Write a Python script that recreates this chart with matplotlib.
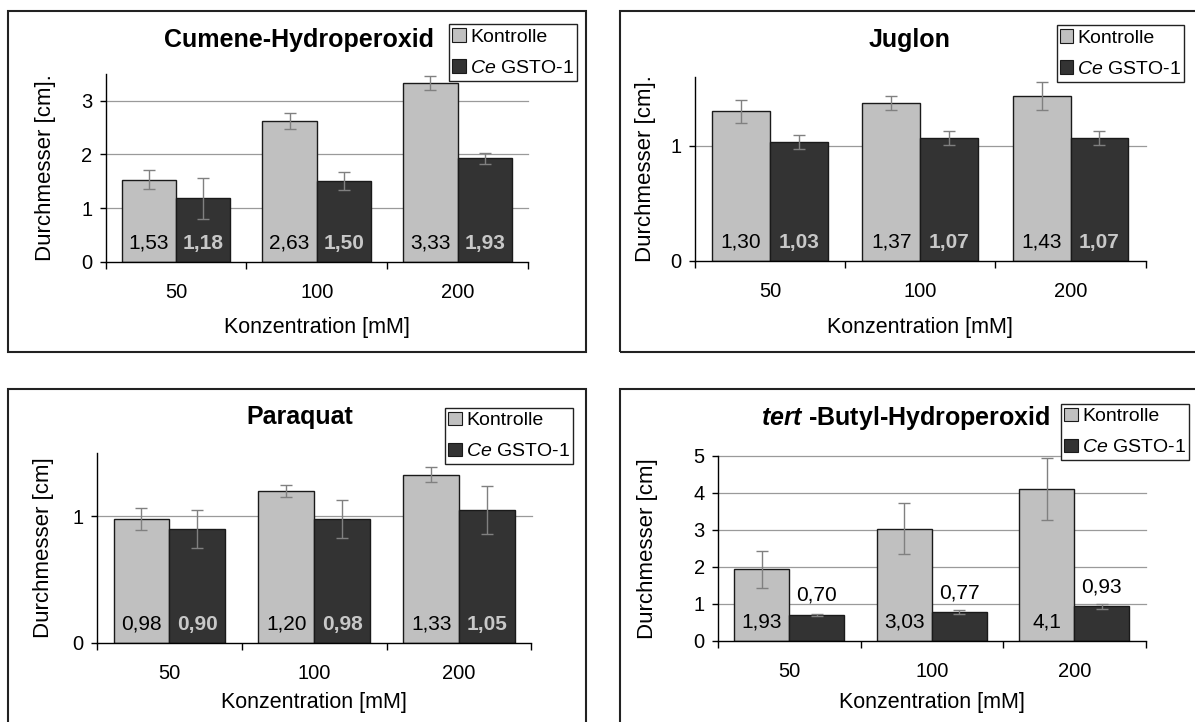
import matplotlib
matplotlib.use("Agg")
import matplotlib.pyplot as plt
from matplotlib.patches import Rectangle, Patch
import numpy as np

plt.rcParams['font.family'] = ['Liberation Sans', 'DejaVu Sans']
plt.rcParams['mathtext.fontset'] = 'custom'
plt.rcParams['mathtext.rm'] = 'Liberation Sans'
plt.rcParams['mathtext.it'] = 'Liberation Sans:italic'
plt.rcParams['mathtext.bf'] = 'Liberation Sans:bold'
try:
    plt.rcParams['mathtext.bfit'] = 'Liberation Sans:bold:italic'
    BFIT = True
except Exception:
    BFIT = False

# ---------------- data ----------------
categories = ["50", "100", "200"]
series_names = ["Kontrolle", "$\\it{Ce}$ GSTO-1"]

cumene_kontrolle = [1.53, 2.63, 3.33]
cumene_ce = [1.18, 1.50, 1.93]
cumene_kontrolle_err = [0.18, 0.15, 0.13]
cumene_ce_err = [0.38, 0.17, 0.10]
cumene_kontrolle_lbl = ["1,53", "2,63", "3,33"]
cumene_ce_lbl = ["1,18", "1,50", "1,93"]

juglon_kontrolle = [1.30, 1.37, 1.43]
juglon_ce = [1.03, 1.07, 1.07]
juglon_kontrolle_err = [0.10, 0.06, 0.12]
juglon_ce_err = [0.06, 0.06, 0.06]
juglon_kontrolle_lbl = ["1,30", "1,37", "1,43"]
juglon_ce_lbl = ["1,03", "1,07", "1,07"]

paraquat_kontrolle = [0.98, 1.20, 1.33]
paraquat_ce = [0.90, 0.98, 1.05]
paraquat_kontrolle_err = [0.085, 0.05, 0.06]
paraquat_ce_err = [0.15, 0.15, 0.19]
paraquat_kontrolle_lbl = ["0,98", "1,20", "1,33"]
paraquat_ce_lbl = ["0,90", "0,98", "1,05"]

tbhp_kontrolle = [1.93, 3.03, 4.10]
tbhp_ce = [0.70, 0.77, 0.93]
tbhp_kontrolle_err = [0.50, 0.68, 0.85]
tbhp_ce_err = [0.02, 0.05, 0.06]
tbhp_kontrolle_lbl = ["1,93", "3,03", "4,1"]
tbhp_ce_lbl = ["0,70", "0,77", "0,93"]

# ---------------- style ----------------
W, H = 1195, 722
C_K = '#C0C0C0'
C_CE = '#333333'
C_ERR = '#808080'
C_GRID = '#9a9a9a'
BW = 0.386

fig = plt.figure(figsize=(W / 100, H / 100), dpi=100)


def frame(x0, y0, x1, y1, lw=1.5, color='#222222', zorder=0):
    r = Rectangle((x0 / W, 1 - y1 / H), (x1 - x0) / W, (y1 - y0) / H,
                  transform=fig.transFigure, fill=False,
                  edgecolor=color, linewidth=lw, zorder=zorder)
    fig.patches.append(r)
    return r


def panel(box, ylim, yticks, k, ce, kerr, ceerr, klbl, celbl, title, ylabel,
          title_xy, legend_box, ylabel_dx, xlabel_dy, ce_above=False):
    left, right, top, bottom = box
    ax = fig.add_axes([left / W, 1 - bottom / H, (right - left) / W, (bottom - top) / H])
    wpx, hpx = right - left, bottom - top
    x = np.arange(len(categories))
    ax.set_xlim(-0.5, len(categories) - 0.5)
    ax.set_ylim(*ylim)
    ax.set_yticks(yticks)
    ax.set_yticklabels([str(t) for t in yticks])
    for t in yticks:
        if t > 0:
            ax.axhline(t, color=C_GRID, lw=0.9, zorder=0, clip_on=False)
    ax.bar(x - BW / 2, k, BW, color=C_K, edgecolor='#1a1a1a', linewidth=1.0, zorder=2)
    ax.bar(x + BW / 2, ce, BW, color=C_CE, edgecolor='#1a1a1a', linewidth=1.0, zorder=2)
    ax.errorbar(x - BW / 2, k, yerr=kerr, fmt='none', ecolor=C_ERR, elinewidth=1.0,
                capsize=4, capthick=1.0, zorder=3)
    ax.errorbar(x + BW / 2, ce, yerr=ceerr, fmt='none', ecolor=C_ERR, elinewidth=1.0,
                capsize=4, capthick=1.0, zorder=3)
    for xi, lb in zip(x, klbl):
        ax.annotate(lb, (xi - BW / 2, 0), xytext=(0, 9.5), textcoords='offset points',
                    ha='center', va='baseline', fontsize=15, color='black', zorder=4)
    for xi, v, lb in zip(x, ce, celbl):
        if ce_above:
            ax.annotate(lb, (xi + BW / 2, v), xytext=(0, 10), textcoords='offset points',
                        ha='center', va='baseline', fontsize=15, color='black', zorder=4)
        else:
            ax.annotate(lb, (xi + BW / 2, 0), xytext=(0, 9.5), textcoords='offset points',
                        ha='center', va='baseline', fontsize=15, color='#C8C8C8',
                        fontweight='bold', zorder=4)
    for s in ['top', 'right']:
        ax.spines[s].set_visible(False)
    for s in ['left', 'bottom']:
        ax.spines[s].set_color('black')
        ax.spines[s].set_linewidth(1.0)
    ax.set_xticks(np.arange(len(categories) + 1) - 0.5)
    ax.set_xticklabels([''] * (len(categories) + 1))
    ax.set_xticks(x, minor=True)
    ax.set_xticklabels(categories, minor=True)
    ax.tick_params(axis='x', which='major', direction='out', length=5, width=1.0)
    ax.tick_params(axis='x', which='minor', length=0, pad=15, labelsize=14.5)
    ax.tick_params(axis='y', direction='out', length=4.5, width=1.0, pad=5, labelsize=14.5)
    ax.set_xlabel("Konzentration [mM]", fontsize=15.5)
    ax.xaxis.label.set_verticalalignment('baseline')
    ax.xaxis.set_label_coords(0.5, -xlabel_dy / hpx)
    ax.set_ylabel(ylabel, fontsize=16)
    ax.yaxis.label.set_verticalalignment('center')
    ax.yaxis.set_label_coords(-ylabel_dx / wpx, 0.5)
    fig.text(title_xy[0] / W, 1 - title_xy[1] / H, title, fontsize=18, fontweight='bold',
             ha='center', va='center')
    # legend with a manually drawn box (added to the axes so it sits above the grid)
    lx0, ly0, lx1, ly1 = legend_box
    lw_, lh_ = lx1 - lx0, ly1 - ly0
    box_patch = Rectangle((lx0 / W, 1 - ly1 / H), lw_ / W, lh_ / H,
                          transform=fig.transFigure, facecolor='white',
                          edgecolor='#222222', linewidth=1.0, zorder=5, clip_on=False)
    ax.add_artist(box_patch)
    handles = [Patch(facecolor=C_K, edgecolor='#1a1a1a', linewidth=0.8),
               Patch(facecolor=C_CE, edgecolor='#1a1a1a', linewidth=0.8)]
    leg = ax.legend(handles, series_names, loc='center',
                    bbox_to_anchor=(lx0 / W, 1 - ly1 / H, lw_ / W, lh_ / H),
                    bbox_transform=fig.transFigure, borderaxespad=0, borderpad=0,
                    fontsize=14, handlelength=0.7, handleheight=0.7, handletextpad=0.22,
                    labelspacing=0.7, frameon=False)
    leg.set_zorder(6)
    return ax


frame(8, 11, 586, 352)
frame(620, 11, 1260, 352)
frame(8, 389, 586, 780)
frame(620, 389, 1260, 780)

panel((105.5, 528, 74, 261.7), (0, 3.5), [0, 1, 2, 3],
      cumene_kontrolle, cumene_ce, cumene_kontrolle_err, cumene_ce_err,
      cumene_kontrolle_lbl, cumene_ce_lbl, "Cumene-Hydroperoxid", "Durchmesser [cm].",
      (299, 40), (449, 24, 577, 81), 60, 71)

panel((695, 1145.6, 76.7, 261), (0, 1.6), [0, 1],
      juglon_kontrolle, juglon_ce, juglon_kontrolle_err, juglon_ce_err,
      juglon_kontrolle_lbl, juglon_ce_lbl, "Juglon", "Durchmesser [cm].",
      (910, 40), (1057, 25, 1184, 82), 50, 72)

panel((97, 531.5, 453.3, 642.7), (0, 1.5), [0, 1],
      paraquat_kontrolle, paraquat_ce, paraquat_kontrolle_err, paraquat_ce_err,
      paraquat_kontrolle_lbl, paraquat_ce_lbl, "Paraquat", "Durchmesser [cm]",
      (300, 417), (445, 408, 573, 464), 53, 65.6)

tbhp_title = "$\\mathbfit{tert}$ -Butyl-Hydroperoxid" if BFIT else "$\\it{tert}$ -Butyl-Hydroperoxid"
panel((718, 1145.6, 455.7, 640.7), (0, 5), [0, 1, 2, 3, 4, 5],
      tbhp_kontrolle, tbhp_ce, tbhp_kontrolle_err, tbhp_ce_err,
      tbhp_kontrolle_lbl, tbhp_ce_lbl, tbhp_title, "Durchmesser [cm]",
      (906, 418), (1061, 404, 1189, 460), 70, 67.6, ce_above=True)

fig.savefig("out.png", dpi=100)
